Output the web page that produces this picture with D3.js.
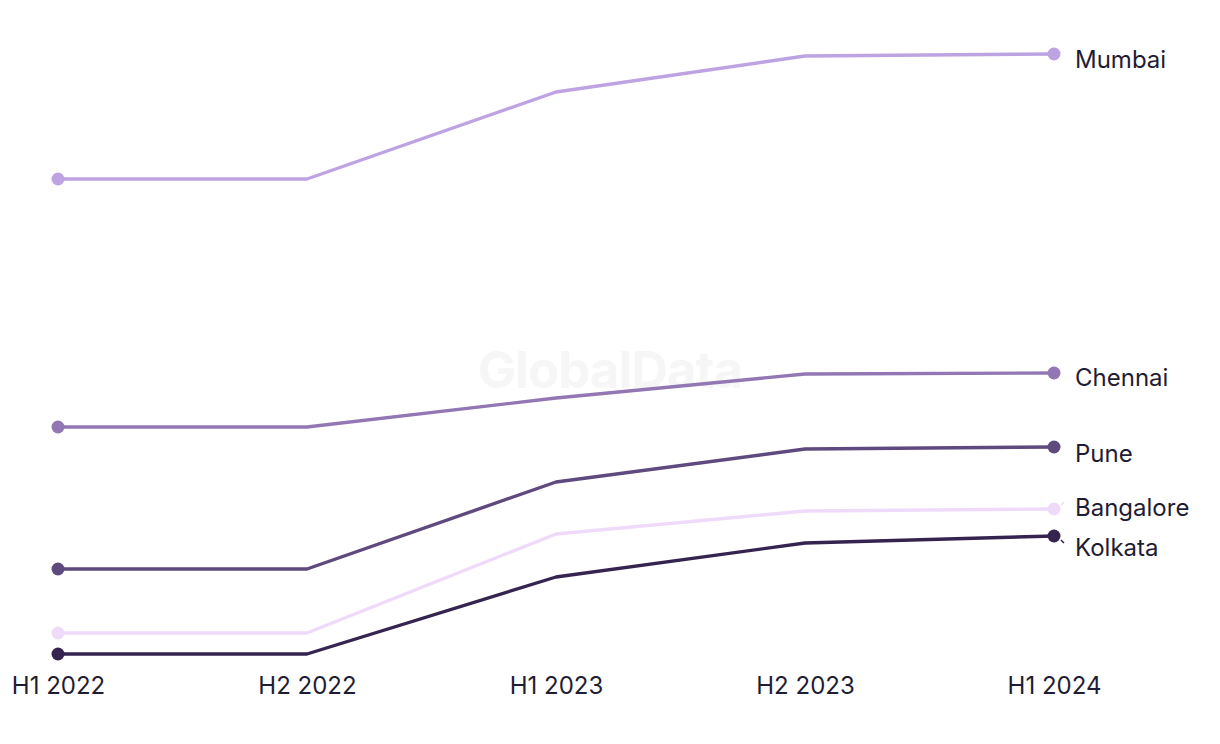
<!DOCTYPE html>
<html>
<head>
<meta charset="utf-8">
<script src="https://cdn.jsdelivr.net/npm/d3@7"></script>
<style>
html,body{margin:0;padding:0;background:#fff;}
svg{display:block;}
</style>
</head>
<body>
<svg id="chart" width="1220" height="744"></svg>
<script>
const periods = ["H1 2022", "H2 2022", "H1 2023", "H2 2023", "H1 2024"];
const cities = ["Mumbai", "Chennai", "Pune", "Bangalore", "Kolkata"];
const mumbai    = [105.0, 105.0, 122.4, 129.6, 130.0];
const chennai   = [55.4, 55.4, 61.2, 66.0, 66.2];
const pune      = [27.0, 27.0, 44.4, 51.0, 51.4];
const bangalore = [14.2, 14.2, 34.0, 38.6, 39.0];
const kolkata   = [10.0, 10.0, 25.4, 32.2, 33.6];
const colors = ["#bea3e2", "#9277b4", "#5e4a7e", "#f0dafa", "#35244f"];
// label vertical nudges (collision avoidance), px
const labelDy = [7, 6, 8, 0, 13];

const seriesValues = [mumbai, chennai, pune, bangalore, kolkata];
const series = cities.map((c, i) => ({name: c, values: seriesValues[i], color: colors[i], dy: labelDy[i]}));

const svg = d3.select("#chart");
const font = "Inter, 'Noto Sans', sans-serif";

const x = d3.scalePoint().domain(periods).range([58, 1054]);
const y = d3.scaleLinear().domain([0, 130]).range([704, 54]);

// watermark
svg.append("text")
  .attr("x", 610).attr("y", 388)
  .attr("text-anchor", "middle")
  .attr("font-family", font)
  .attr("font-weight", 700)
  .attr("font-size", 51)
  .attr("fill", "#f6f6f6")
  .attr("letter-spacing", -1)
  .text("GlobalData");

// x axis labels
const xAxis = d3.axisBottom(x).tickSize(0).tickPadding(0);
const gx = svg.append("g").attr("transform", "translate(0,694)").call(xAxis);
gx.select(".domain").remove();
gx.selectAll("text")
  .attr("font-family", font)
  .attr("font-size", 24)
  .attr("fill", "#1f1d33")
  .attr("y", 0)
  .attr("dy", 0);

const line = d3.line().x((d, i) => x(periods[i])).y(d => y(d));

// draw in reverse so Mumbai is on top
const order = series.slice().reverse();
const g = svg.append("g");
order.forEach(s => {
  g.append("path")
    .datum(s.values)
    .attr("d", line)
    .attr("fill", "none")
    .attr("stroke", s.color)
    .attr("stroke-width", 3.4)
    .attr("stroke-linejoin", "round");
  [0, s.values.length - 1].forEach(i => {
    g.append("circle")
      .attr("cx", x(periods[i]))
      .attr("cy", y(s.values[i]))
      .attr("r", 6.5)
      .attr("fill", s.color);
  });
});

// labels
series.forEach(s => {
  const last = s.values.length - 1;
  const px = x(periods[last]);
  const py = y(s.values[last]);
  svg.append("text")
    .attr("x", px + 21)
    .attr("y", py + s.dy)
    .attr("dominant-baseline", "middle")
    .attr("font-family", font)
    .attr("font-size", 24)
    .attr("fill", "#1f1d33")
    .text(s.name);
});

// leader ticks for crowded labels
[[3, -1], [4, 1]].forEach(([i, dir]) => {
  const s = series[i];
  const last = s.values.length - 1;
  const px = x(periods[last]);
  const py = y(s.values[last]);
  svg.append("line")
    .attr("x1", px + 7).attr("y1", py + dir * 4)
    .attr("x2", px + 10).attr("y2", py + dir * 7)
    .attr("stroke", s.color).attr("stroke-width", 1.5);
});
</script>
</body>
</html>
